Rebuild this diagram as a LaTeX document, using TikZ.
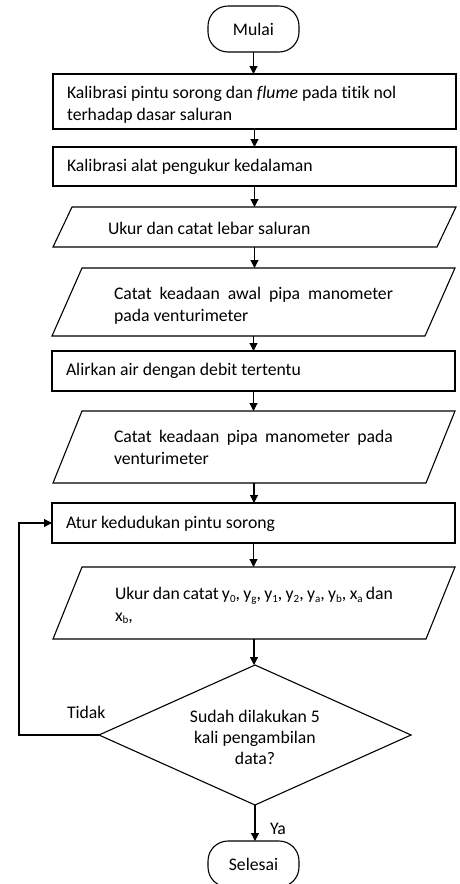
\documentclass[tikz,border=0pt]{standalone}
\usepackage{fontspec}
\setmainfont{Carlito}[Ligatures=NoCommon]
\usetikzlibrary{shapes.geometric,arrows.meta}
\newcommand\paragm[2]{\draw[line width=1.1pt] ([xshift=#2pt]#1.north west) -- (#1.north east) -- ([xshift=-#2pt]#1.south east) -- (#1.south west) -- cycle;}
\newcommand\sbx[1]{\raisebox{-2.5pt}{\fontsize{11}{12}\selectfont #1}}
\begin{document}
\begin{tikzpicture}[x=1pt,y=-1pt,
  every node/.style={inner sep=0pt, outer sep=0pt, font=\fontsize{17.7}{21}\selectfont},
  term/.style={draw, line width=1.1pt, rectangle, rounded corners=20pt, minimum width=91pt, minimum height=46pt},
  proc/.style={draw, line width=1.1pt, rectangle, minimum width=403pt},
  iobox/.style={rectangle, minimum width=403pt},
  txt/.style={anchor=base west},
  arr/.style={line width=1.1pt, -{Triangle[length=8pt,width=8pt]}},
]
\useasboundingbox (0,0) rectangle (460,884);

\node[term] (start) at (253.5,29) {Mulai};

\node[proc, minimum height=55pt] (b1) at (254.5,101.5) {};
\node[txt] (t1a) at (67,98.5) {Kalibrasi pintu sorong dan \textit{flume} pada titik nol};
\node[txt] (t1b) at (67,120) {terhadap dasar saluran};

\node[proc, minimum height=39pt] (b2) at (254.5,166.5) {};
\node[txt] (t2) at (67,171.5) {Kalibrasi alat pengukur kedalaman};

\node[iobox, minimum height=40pt] (p1) at (254.5,227) {};
\paragm{p1}{19}
\node[txt] (t3) at (108,234.5) {Ukur dan catat lebar saluran};

\node[iobox, minimum height=68pt] (p2) at (253.5,302) {};
\paragm{p2}{30}
\node[txt] (t4a) at (114,299) {\makebox[279pt][s]{Catat keadaan awal pipa manometer}};
\node[txt] (t4b) at (114,321) {pada venturimeter};

\node[proc, minimum height=40pt] (b3) at (253.5,371) {};
\node[txt] (t5) at (66,375) {Alirkan air dengan debit tertentu};

\node[iobox, minimum width=402pt, minimum height=72pt] (p3) at (254,447) {};
\paragm{p3}{29}
\node[txt] (t6a) at (114,442.5) {\makebox[279pt][s]{Catat keadaan pipa manometer pada}};
\node[txt] (t6b) at (114,464) {venturimeter};

\node[proc, minimum height=40pt] (b4) at (253.5,523) {};
\node[txt] (t7) at (66,528.5) {Atur kedudukan pintu sorong};

\node[iobox, minimum width=402pt, minimum height=72pt] (p4) at (254,603) {};
\paragm{p4}{29}
\node[txt] (t8a) at (115,599.5) {\makebox[278pt][s]{Ukur dan catat y\sbx{0}, y\sbx{g}, y\sbx{1}, y\sbx{2}, y\sbx{a}, y\sbx{b}, x\sbx{a} dan}};
\node[txt] (t8b) at (115,621) {x\sbx{b},};

\node[diamond, draw, line width=1.1pt, minimum width=312pt, minimum height=140pt] (dec) at (255,735) {};
\node[align=center] (dect) at (255,737) {Sudah dilakukan 5\\kali pengambilan\\data?};
\node[txt] (tidak) at (67,718.5) {Tidak};
\node[txt] (ya) at (270,834.5) {Ya};

\node[term] (stop) at (253.5,864) {Selesai};

\draw[arr] (start.south) -- (start.south |- b1.north);
\draw[arr] (b1.south) -- (b1.south |- b2.north);
\draw[arr] (b2.south) -- (b2.south |- p1.north);
\draw[arr] (p1.south) -- (p1.south |- p2.north);
\draw[arr] (p2.south) -- (p2.south |- b3.north);
\draw[arr] (b3.south) -- (b3.south |- p3.north);
\draw[arr] (p3.south) -- (p3.south |- b4.north);
\draw[arr] (b4.south) -- (b4.south |- p4.north);
\draw[arr] (p4.south) -- (p4.south |- dec.north);
\draw[arr] (dec.south) -- (dec.south |- stop.north);
\draw[arr] (dec.west) -- ++(-80,0) |- (b4.west);
\end{tikzpicture}
\end{document}
